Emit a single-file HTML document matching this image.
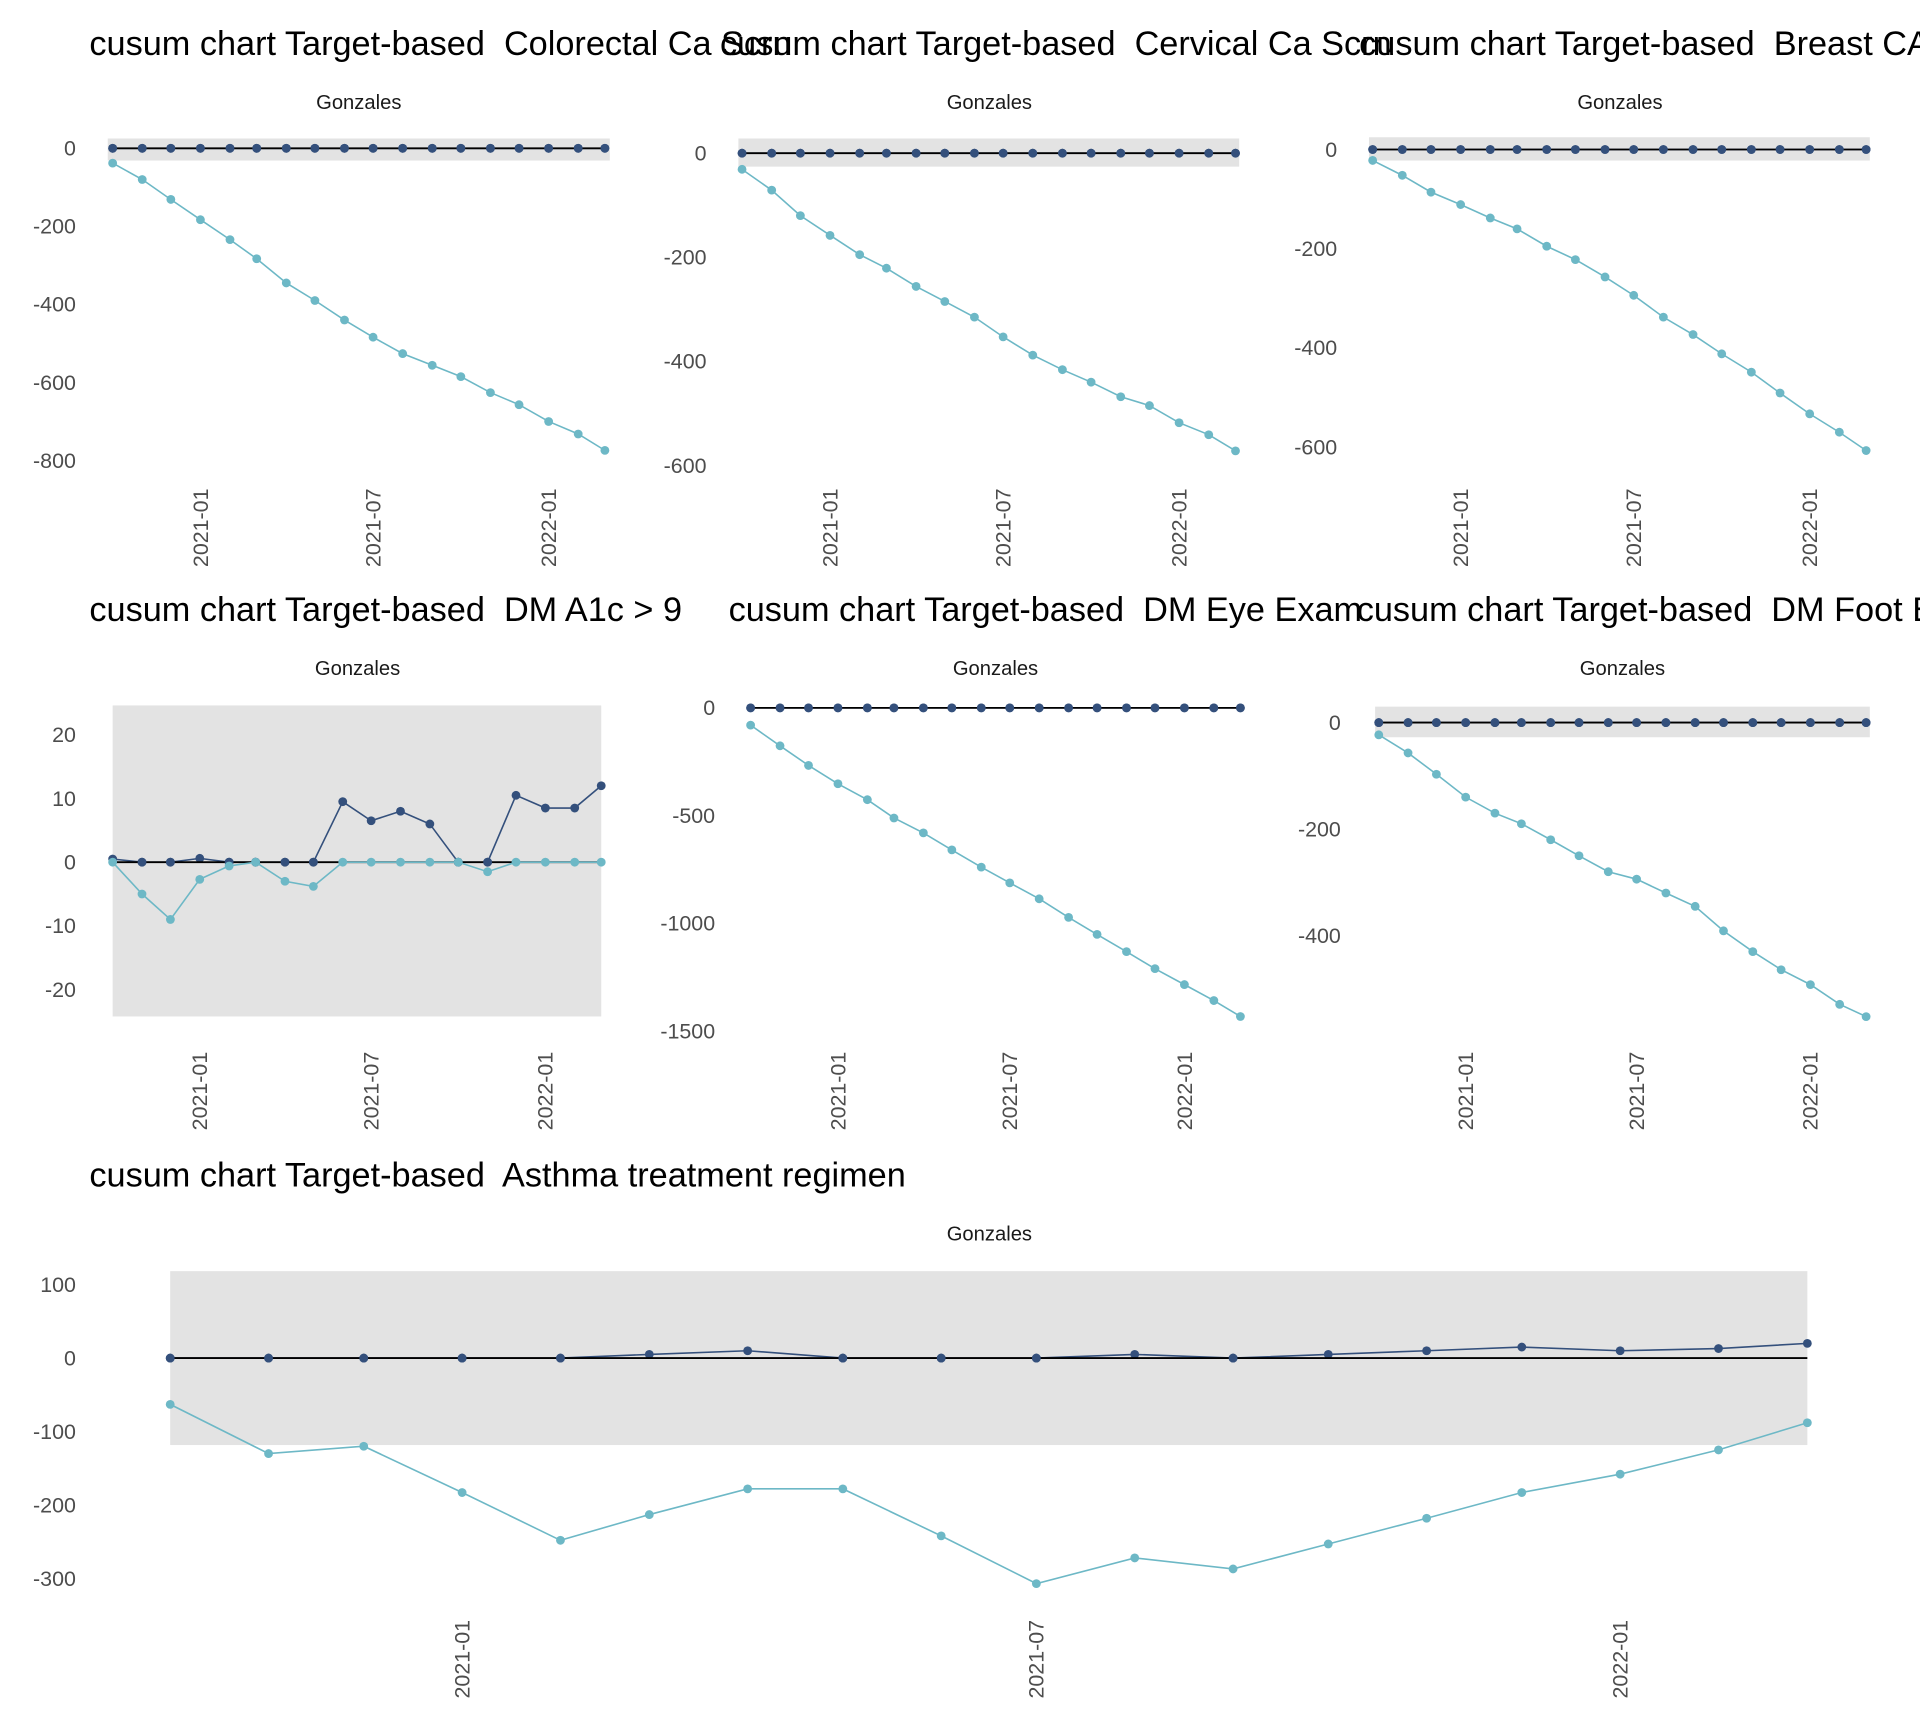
<!DOCTYPE html>
<html><head><meta charset="utf-8">
<style>
html,body{margin:0;padding:0;background:#fff;}
svg{display:block;}
</style></head>
<body>
<svg id="chart" width="1920" height="1728" viewBox="0 0 1568 1411" xmlns="http://www.w3.org/2000/svg" font-family="Liberation Sans, Arial, sans-serif"></svg>
<script>
// ---- data ----
const months = ["2020-10-01","2020-11-01","2020-12-01","2021-01-01","2021-02-01","2021-03-01","2021-04-01","2021-05-01","2021-06-01","2021-07-01","2021-08-01","2021-09-01","2021-10-01","2021-11-01","2021-12-01","2022-01-01","2022-02-01","2022-03-01"];
const xTickLabels = ["2021-01","2021-07","2022-01"];
const xTickDates = ["2021-01-01","2021-07-01","2022-01-01"];

const colorectalUpper = [0,0,0,0,0,0,0,0,0,0,0,0,0,0,0,0,0,0];
const colorectalLower = [-38,-80,-131,-183,-234,-283,-345,-390,-440,-484,-526,-556,-585,-626,-657,-700,-732,-774];
const colorectalTicks = [0,-200,-400,-600,-800];

const cervicalUpper = [0,0,0,0,0,0,0,0,0,0,0,0,0,0,0,0,0,0];
const cervicalLower = [-31,-71,-120,-158,-195,-221,-256,-285,-315,-353,-388,-416,-440,-468,-485,-518,-541,-572];
const cervicalTicks = [0,-200,-400,-600];

const breastUpper = [0,0,0,0,0,0,0,0,0,0,0,0,0,0,0,0,0,0];
const breastLower = [-22,-52,-86,-111,-138,-160,-195,-222,-257,-294,-338,-373,-412,-449,-491,-533,-570,-607];
const breastTicks = [0,-200,-400,-600];

const a1cUpper = [0.5,0,0,0.6,0,0,0,0,9.5,6.5,8,6,0,0,10.5,8.5,8.5,12];
const a1cLower = [0,-5,-9,-2.7,-0.6,0,-3,-3.8,0,0,0,0,0,-1.5,0,0,0,0];
const a1cTicks = [20,10,0,-10,-20];

const eyeUpper = [0,0,0,0,0,0,0,0,0,0,0,0,0,0,0,0,0,0];
const eyeLower = [-80,-176,-267,-352,-426,-511,-580,-659,-739,-812,-886,-972,-1051,-1131,-1210,-1284,-1358,-1432];
const eyeTicks = [0,-500,-1000,-1500];

const footUpper = [0,0,0,0,0,0,0,0,0,0,0,0,0,0,0,0,0,0];
const footLower = [-23,-57,-97,-140,-170,-190,-220,-250,-280,-294,-320,-345,-391,-430,-464,-492,-529,-552];
const footTicks = [0,-200,-400];

const asthmaUpper = [0,0,0,0,0,5,10,0,0,0,5,0,5,10,15,10,13,20];
const asthmaLower = [-63,-130,-120,-183,-248,-213,-178,-178,-242,-307,-272,-287,-253,-218,-183,-158,-125,-88];
const asthmaTicks = [100,0,-100,-200,-300];

// ---- layout (not data) ----
const panels = [
 {name:"colorectal",title:"cusum chart Target-based  Colorectal Ca Scrn",tx:73,ty:45,sx:293,sy:89,x0:92,x1:494,v0:0,p0:121,v1:-800,p1:376,band:[113,131,88,498],up:colorectalUpper,lo:colorectalLower,ticks:colorectalTicks,lx:62,xl:463},
 {name:"cervical",title:"cusum chart Target-based  Cervical Ca Scrn",tx:588,ty:45,sx:808,sy:89,x0:606,x1:1009,v0:0,p0:125,v1:-600,p1:380,band:[113,136,603,1012],up:cervicalUpper,lo:cervicalLower,ticks:cervicalTicks,lx:577,xl:463},
 {name:"breast",title:"cusum chart Target-based  Breast CA Scrn",tx:1110,ty:45,sx:1323,sy:89,x0:1121,x1:1524,v0:0,p0:122,v1:-600,p1:365,band:[112,131,1118,1527],up:breastUpper,lo:breastLower,ticks:breastTicks,lx:1092,xl:463},
 {name:"a1c",title:"cusum chart Target-based  DM A1c > 9",tx:73,ty:507,sx:292,sy:551,x0:92,x1:491,v0:0,p0:704,v1:-20,p1:808,band:[576,830,92,491],up:a1cUpper,lo:a1cLower,ticks:a1cTicks,lx:62,xl:923},
 {name:"eye",title:"cusum chart Target-based  DM Eye Exam",tx:595,ty:507,sx:813,sy:551,x0:613,x1:1013,v0:0,p0:578,v1:-1500,p1:842,band:null,up:eyeUpper,lo:eyeLower,ticks:eyeTicks,lx:584,xl:923},
 {name:"foot",title:"cusum chart Target-based  DM Foot Exam",tx:1108,ty:507,sx:1325,sy:551,x0:1126,x1:1524,v0:0,p0:590,v1:-400,p1:764,band:[577,602,1123,1527],up:footUpper,lo:footLower,ticks:footTicks,lx:1095,xl:923},
 {name:"asthma",title:"cusum chart Target-based  Asthma treatment regimen",tx:73,ty:969,sx:808,sy:1013,x0:139,x1:1476,v0:0,p0:1109,v1:-300,p1:1289,band:[1038,1180,139,1476],up:asthmaUpper,lo:asthmaLower,ticks:asthmaTicks,lx:62,xl:1387}
];
const NS="http://www.w3.org/2000/svg";
const svg=document.getElementById('chart');
function mk(tag,attrs,parent){const e=document.createElementNS(NS,tag);for(const k in attrs)e.setAttribute(k,attrs[k]);(parent||svg).appendChild(e);return e;}
const day=d=>Date.parse(d)/86400000;
const dStart=day(months[0]), dEnd=day(months[months.length-1]);

panels.forEach(p=>{
  const g=mk('g',{});
  
  
  const xs=d=>p.x0+(day(d)-dStart)/(dEnd-dStart)*(p.x1-p.x0);
  const ys=v=>p.p0+(v-p.v0)/(p.v1-p.v0)*(p.p1-p.p0);
  if(p.band){
    const b=mk('rect',{x:p.band[2],y:p.band[0],width:p.band[3]-p.band[2],height:p.band[1]-p.band[0],fill:'#e3e3e3'},g);
    
    
  }
  const t=mk('text',{x:p.tx,y:p.ty,'font-size':28,fill:'#000','xml:space':'preserve'},g);
  t.setAttribute('style','white-space:pre');
  t.textContent=p.title;
  
  
  const s=mk('text',{x:p.sx,y:p.sy,'font-size':16.5,fill:'#1a1a1a','text-anchor':'middle'},g);
  s.textContent='Gonzales';
  
  
  p.ticks.forEach(v=>{
    const tl=mk('text',{x:p.lx,y:ys(v)+6,'font-size':17.5,fill:'#4d4d4d','text-anchor':'end'},g);
    tl.textContent=String(v);
    
    
  });
  xTickDates.forEach((d,i)=>{
    const x=xs(d)+6;
    const xl=mk('text',{x:x,y:p.xl,'font-size':17.5,fill:'#4d4d4d',transform:`rotate(-90 ${x} ${p.xl})`},g);
    xl.textContent=xTickLabels[i];
    
    
  });
  const drawSeries=(vals,col,nm)=>{
    const pts=vals.map((v,i)=>xs(months[i]).toFixed(1)+','+ys(v).toFixed(1)).join(' ');
    const pl=mk('polyline',{points:pts,fill:'none',stroke:col,'stroke-width':1.3},g);
    
    
    vals.forEach((v,i)=>{
      const c=mk('circle',{cx:xs(months[i]),cy:ys(v),r:3.6,fill:col},g);
      
      
    });
  };
  drawSeries(p.up,'#34507c','upper-cusum');
  const zl=mk('line',{x1:p.x0,x2:p.x1,y1:ys(0),y2:ys(0),stroke:'#000','stroke-width':1.5},g);
  
  
  p.up.forEach((v,i)=>{ if(v===0){const c=mk('circle',{cx:xs(months[i]),cy:ys(v),r:3.6,fill:'#34507c'},g);
    
    }});
  drawSeries(p.lo,'#6db8c6','lower-cusum');
});
</script>
</body></html>
